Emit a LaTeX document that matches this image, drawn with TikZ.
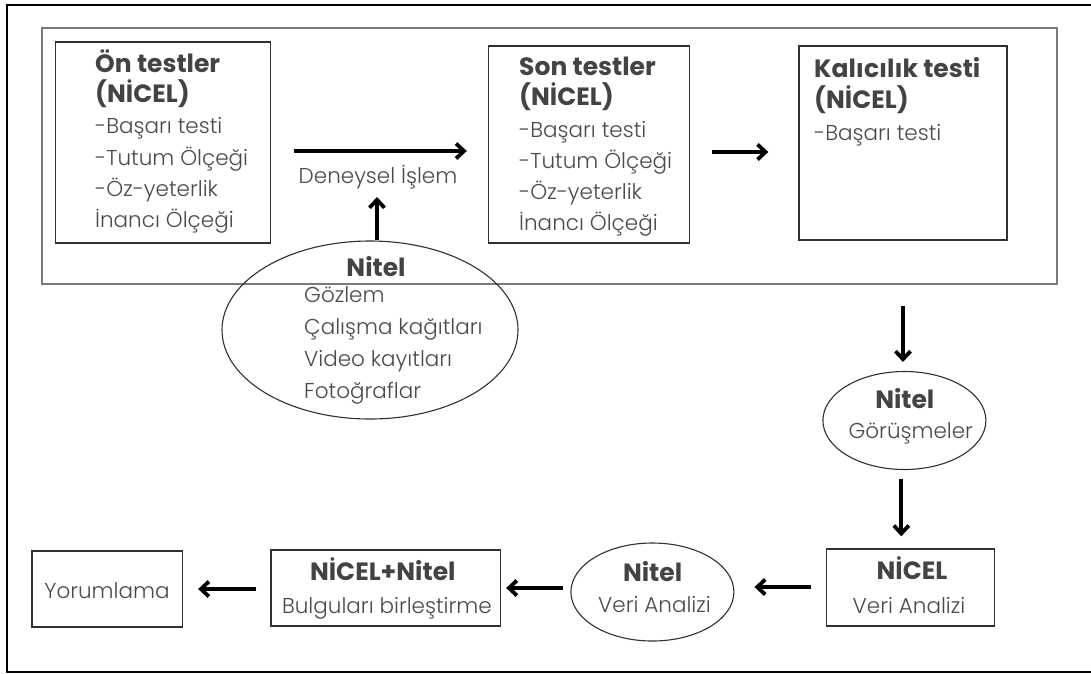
\documentclass[tikz,border=0pt]{standalone}
\usepackage{fontspec}
\setmainfont{Poppins Light}[BoldFont=Poppins Bold]
\usetikzlibrary{arrows.meta,shapes.geometric}
\definecolor{txtgray}{HTML}{4A4A4A}
\definecolor{bldgray}{HTML}{434343}
\definecolor{boxgray}{HTML}{303030}
\definecolor{framegray}{HTML}{7A7A7A}
\tikzset{
  reg/.style={font=\fontsize{21.5}{24}\selectfont, text=txtgray, inner sep=0pt},
  bld/.style={font=\bfseries\fontsize{25}{27}\selectfont, text=bldgray, inner sep=0pt},
  stagebox/.style={draw=boxgray, line width=1.4pt, rectangle, inner sep=0pt},
  oval/.style={draw=boxgray, line width=1.1pt, ellipse, inner sep=0pt},
  arr/.style={-{Straight Barb[length=8pt,width=15pt]}, line width=3.8pt, black},
}
\begin{document}
\begin{tikzpicture}[x=1pt,y=-1pt]
\useasboundingbox (0,0) rectangle (1091,673);
\fill[white] (0,0) rectangle (1091,673);
\clip (0,0) rectangle (1091,673);
% outer frame (open to the right)
\draw[black, line width=1.6pt] (1100,5) -- (7,5) -- (7,672) -- (1100,672);
% container of the quantitative tests
\node[draw=framegray, line width=1.6pt, rectangle, inner sep=0pt,
      minimum width=1015pt, minimum height=256pt] (tests) at (549.5,156) {};

% pre-tests
\node[stagebox, minimum width=215pt, minimum height=201pt] (box1) at (163,142.5) {};
\node[bld, anchor=base west] (b1t1) at (95,72) {Ön testler};
\node[bld, anchor=base west] (b1t2) at (95,102) {(NİCEL)};
\node[reg, anchor=base west] (b1l1) at (95,133) {-Başarı testi};
\node[reg, anchor=base west] (b1l2) at (95,165) {-Tutum Ölçeği};
\node[reg, anchor=base west] (b1l3) at (95,196) {-Öz-yeterlik};
\node[reg, anchor=base west] (b1l4) at (95,227) {İnancı Ölçeği};

% post-tests
\node[stagebox, minimum width=201pt, minimum height=197pt] (box2) at (589,144.5) {};
\node[bld, anchor=base west] (b2t1) at (519,75) {Son testler};
\node[bld, anchor=base west] (b2t2) at (519,105) {(NİCEL)};
\node[reg, anchor=base west] (b2l1) at (519,137) {-Başarı testi};
\node[reg, anchor=base west] (b2l2) at (519,168) {-Tutum Ölçeği};
\node[reg, anchor=base west] (b2l3) at (519,199) {-Öz-yeterlik};
\node[reg, anchor=base west] (b2l4) at (519,230) {İnancı Ölçeği};

% retention test
\node[stagebox, minimum width=208pt, minimum height=194pt] (box3) at (903,143) {};
\node[bld, anchor=base west] (b3t1) at (814,77) {Kalıcılık testi};
\node[bld, anchor=base west] (b3t2) at (814,108) {(NİCEL)};
\node[reg, anchor=base west] (b3l1) at (814,140) {-Başarı testi};

% experimental treatment
\node[reg, anchor=base] (deney) at (378,183) {Deneysel İşlem};
\coordinate (row1) at (0,151);
\coordinate (row2) at (0,152);
\draw[arr, shorten <=23pt, shorten >=21pt] (box1.east |- row1) -- (box2.west |- row1);
\draw[arr, shorten <=22pt, shorten >=30pt] (box2.east |- row2) -- (box3.west |- row2);

% qualitative data during the treatment
\node[oval, minimum width=296pt, minimum height=178pt] (nitel1) at (370,330) {};
\node[bld, anchor=base] (n1t) at (376,276) {Nitel};
\node[reg, anchor=base west] (n1l1) at (304,302) {Gözlem};
\node[reg, anchor=base west] (n1l2) at (304,334) {Çalışma kağıtları};
\node[reg, anchor=base west] (n1l3) at (304,366) {Video kayıtları};
\node[reg, anchor=base west] (n1l4) at (304,398) {Fotoğraflar};
\coordinate (upx) at (377,0);
\draw[arr, shorten >=1pt] (nitel1.north -| upx) -- ([yshift=-13pt]deney.base -| upx);

% interviews
\node[oval, minimum width=163pt, minimum height=98pt] (gor) at (904.4,420.5) {};
\node[bld, anchor=base] (gort) at (904.8,408) {Nitel};
\node[reg, anchor=base] (gorl) at (910.8,438) {Görüşmeler};
\coordinate (dn1) at (903,0);
\draw[arr, shorten <=21pt, shorten >=9pt] (tests.south -| dn1) -- (gor.north -| dn1);

% quantitative analysis
\node[stagebox, minimum width=168pt, minimum height=77pt] (nicel) at (910.5,587.5) {};
\node[bld, anchor=base] (nicelt) at (912,579) {NİCEL};
\node[reg, anchor=base] (nicell) at (909,613) {Veri Analizi};
\coordinate (dn2) at (901.3,0);
\draw[arr, shorten <=9pt, shorten >=12pt] (gor.south -| dn2) -- (nicel.north -| dn2);

% qualitative analysis
\node[oval, minimum width=163pt, minimum height=98pt] (analiz) at (652.4,592) {};
\node[bld, anchor=base] (analizt) at (652.6,581) {Nitel};
\node[reg, anchor=base] (analizl) at (654.5,612) {Veri Analizi};
\coordinate (row3) at (0,587);
\draw[arr, shorten <=15pt, shorten >=20pt] (nicel.west |- row3) -- (analiz.east |- row3);

% merging the findings
\node[stagebox, minimum width=229.5pt, minimum height=76pt] (birles) at (385.7,588) {};
\node[bld, anchor=base] (birlest) at (382.8,580) {NİCEL+Nitel};
\node[reg, anchor=base] (birlesl) at (386.9,613) {Bulguları birleştirme};
\coordinate (row4) at (0,588);
\draw[arr, shorten <=7pt, shorten >=5pt] (analiz.west |- row4) -- (birles.east |- row4);

% interpretation
\node[stagebox, minimum width=150.5pt, minimum height=76pt] (yorum) at (107.2,589) {};
\node[reg, anchor=base] (yoruml) at (107,598) {Yorumlama};
\coordinate (row5) at (0,589);
\draw[arr, shorten <=14pt, shorten >=15pt] (birles.west |- row5) -- (yorum.east |- row5);
\end{tikzpicture}
\end{document}
